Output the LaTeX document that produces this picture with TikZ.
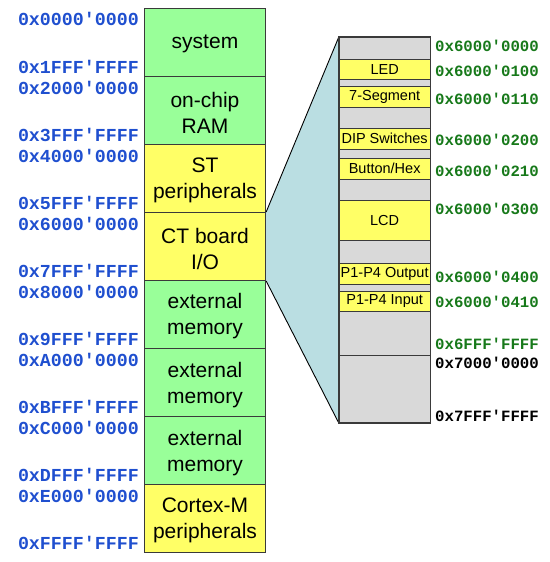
\documentclass[tikz,border=0pt]{standalone}
\usepackage{fontspec}
\setmainfont{Liberation Sans}
\setmonofont{Liberation Mono}
\definecolor{memgreen}{HTML}{99FF99}
\definecolor{memyellow}{HTML}{FFFF66}
\definecolor{memteal}{HTML}{BADEE2}
\definecolor{memgray}{HTML}{D9D9D9}
\definecolor{edgegray}{HTML}{3A3A3A}
\definecolor{addrblue}{HTML}{1F4FCF}
\definecolor{addrgreen}{HTML}{17791A}
\begin{document}
\begin{tikzpicture}[x=1pt,y=-1pt,
  blk/.style={draw=edgegray, line width=0.9pt, minimum width=121.4pt, minimum height=68.05pt,
    inner sep=0pt},
  blktext/.style={inner sep=0pt, align=center, font=\fontsize{21}{26}\selectfont, yshift=-2pt},
  subblk/.style={draw=edgegray, line width=0.9pt, fill=memyellow, minimum width=90.7pt,
    inner sep=0pt, font=\fontsize{14.5}{17}\selectfont},
  addrL/.style={anchor=east, inner sep=0pt, text=addrblue, font=\ttfamily\bfseries\fontsize{18.3}{20}\selectfont},
  addrR/.style={anchor=west, inner sep=0pt, text=addrgreen, font=\ttfamily\bfseries\fontsize{15.7}{18}\selectfont},
  addrK/.style={addrR, text=black}]
\useasboundingbox (0,0) rectangle (549,562);

% detail box
\node[draw=edgegray, line width=0.9pt, fill=memgray, minimum width=90.7pt, minimum height=385.4pt, inner sep=0pt] (detail) at (384.65,230) {};

% left blocks
\node[blk, fill=memgreen] (sys) at (205,42.3) {};
\node[blk, fill=memgreen] (ram) at (205,110.4) {};
\node[blk, fill=memyellow] (st) at (205,178.4) {};
\node[blk, fill=memyellow] (ct) at (205,246.5) {};
\node[blk, fill=memgreen] (ext1) at (205,314.5) {};
\node[blk, fill=memgreen] (ext2) at (205,382.6) {};
\node[blk, fill=memgreen] (ext3) at (205,450.6) {};
\node[blk, fill=memyellow] (cm) at (205,518.7) {};
\node[blktext] (sysT) at (sys.center) {system};
\node[blktext] (ramT) at (ram.center) {on-chip\\RAM};
\node[blktext] (stT) at (st.center) {ST\\peripherals};
\node[blktext] (ctT) at (ct.center) {CT board\\I/O};
\node[blktext] (ext1T) at (ext1.center) {external\\memory};
\node[blktext] (ext2T) at (ext2.center) {external\\memory};
\node[blktext] (ext3T) at (ext3.center) {external\\memory};
\node[blktext] (cmT) at (cm.center) {Cortex-M\\peripherals};

% zoom trapezoid
\fill[memteal] (ct.north east) -- (detail.north west) -- (detail.south west) -- (ct.south east) -- cycle;
\draw[line width=0.9pt, black] (ct.north east) -- (detail.north west);
\draw[line width=0.9pt, black] (ct.south east) -- (detail.south west);
\draw[draw=edgegray, line width=0.9pt] (detail.north west) rectangle (detail.south east);
\coordinate (sepL) at (339.3,355);
\coordinate (sepR) at (430,355);
\draw[draw=edgegray, line width=0.9pt] (sepL) -- (sepR);

% sub blocks
\node[subblk, minimum height=20.3pt] (led) at (384.65,69.2) {LED};
\node[subblk, minimum height=21pt] (seg) at (384.65,97.2) {7-Segment};
\node[subblk, minimum height=21pt] (dip) at (384.65,138.8) {DIP Switches};
\node[subblk, minimum height=21pt] (btn) at (384.65,168.5) {Button/Hex};
\node[subblk, minimum height=40pt] (lcd) at (384.65,220.7) {LCD};
\node[subblk, minimum height=20.3pt] (pout) at (384.65,273.9) {P1-P4 Output};
\node[subblk, minimum height=20.7pt] (pin) at (384.65,301.4) {P1-P4 Input};

% left addresses
\node[addrL] (a1) at (139,19) {0x0000'0000};
\node[addrL] (a2) at (139,66.5) {0x1FFF'FFFF};
\node[addrL] (a3) at (139,87.5) {0x2000'0000};
\node[addrL] (a4) at (139,134.5) {0x3FFF'FFFF};
\node[addrL] (a5) at (139,155.8) {0x4000'0000};
\node[addrL] (a6) at (139,202.5) {0x5FFF'FFFF};
\node[addrL] (a7) at (139,223.8) {0x6000'0000};
\node[addrL] (a8) at (139,270.5) {0x7FFF'FFFF};
\node[addrL] (a9) at (139,291.8) {0x8000'0000};
\node[addrL] (a10) at (139,338.5) {0x9FFF'FFFF};
\node[addrL] (a11) at (139,359.8) {0xA000'0000};
\node[addrL] (a12) at (139,406.5) {0xBFFF'FFFF};
\node[addrL] (a13) at (139,427.8) {0xC000'0000};
\node[addrL] (a14) at (139,474.5) {0xDFFF'FFFF};
\node[addrL] (a15) at (139,495.8) {0xE000'0000};
\node[addrL] (a16) at (139,542.5) {0xFFFF'FFFF};

% right addresses
\node[addrR] (r1) at (435,46) {0x6000'0000};
\node[addrR] (r2) at (435,71) {0x6000'0100};
\node[addrR] (r3) at (435,99) {0x6000'0110};
\node[addrR] (r4) at (435,140) {0x6000'0200};
\node[addrR] (r5) at (435,171) {0x6000'0210};
\node[addrR] (r6) at (435,209) {0x6000'0300};
\node[addrR] (r7) at (435,277) {0x6000'0400};
\node[addrR] (r8) at (435,302) {0x6000'0410};
\node[addrR] (r9) at (435,344) {0x6FFF'FFFF};
\node[addrK] (r10) at (435,363) {0x7000'0000};
\node[addrK] (r11) at (435,416) {0x7FFF'FFFF};
\end{tikzpicture}
\end{document}
